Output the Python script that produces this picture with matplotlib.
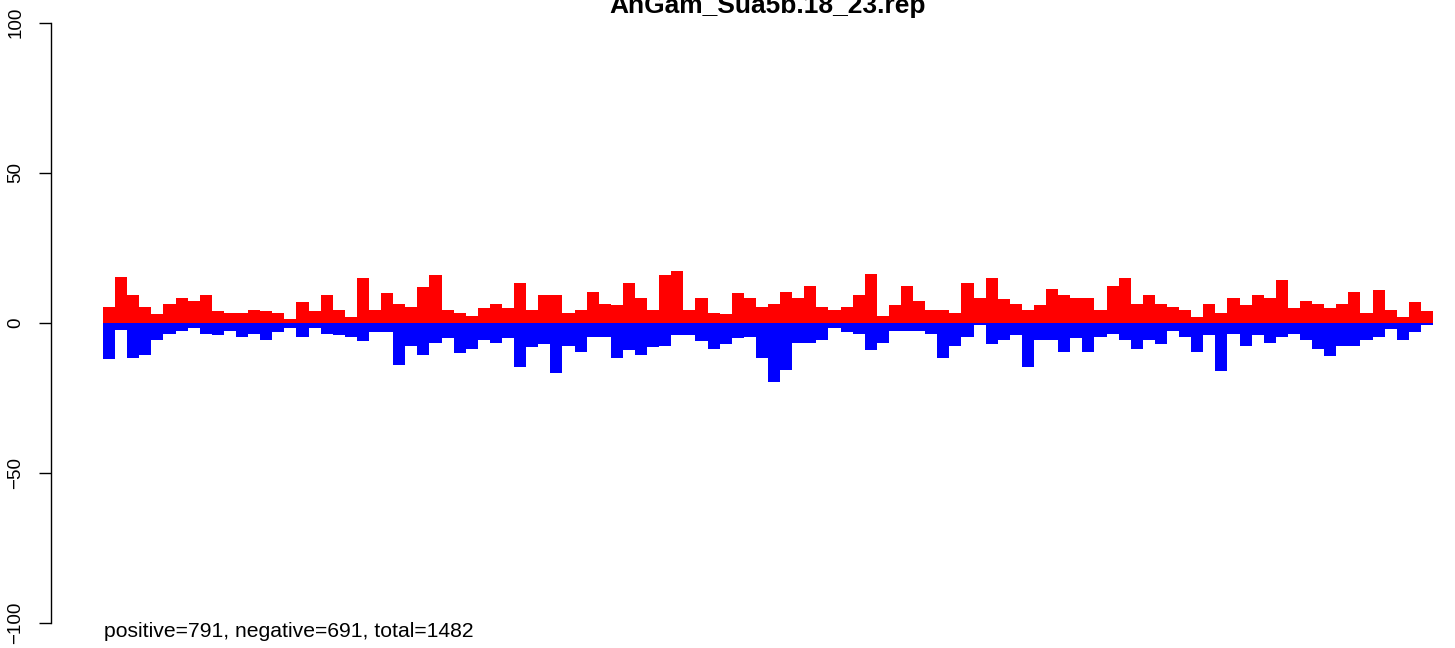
import numpy as np
import matplotlib
matplotlib.use("Agg")
import matplotlib.pyplot as plt

plt.rcParams['font.family'] = ['Liberation Sans', 'DejaVu Sans']
plt.rcParams['axes.unicode_minus'] = True

title = "AnGam_Sua5b.18_23.rep"

# counts per bin (110 bins)
positive = [
    5.1, 15.1, 9.1, 5.1, 2.8, 6.4, 8.4, 7.4, 9.1, 3.8,
    3.4, 3.4, 4.4, 3.8, 3.4, 1.1, 6.8, 3.8, 9.4, 4.4,
    1.8, 14.8, 4.4, 9.8, 6.1, 5.4, 11.8, 15.8, 4.4, 3.1,
    2.4, 4.8, 6.1, 4.8, 13.1, 4.1, 9.4, 9.4, 3.1, 4.4,
    10.1, 6.4, 5.8, 13.4, 8.4, 4.4, 15.8, 17.4, 4.1, 8.4,
    3.4, 2.8, 9.8, 8.1, 5.4, 6.4, 10.1, 8.1, 12.4, 5.1,
    4.4, 5.4, 9.1, 16.4, 2.1, 5.8, 12.4, 7.1, 4.1, 4.4,
    3.4, 13.1, 8.4, 14.8, 7.8, 6.1, 4.1, 5.8, 11.1, 9.1,
    8.1, 8.1, 4.4, 12.1, 14.8, 6.1, 9.1, 6.1, 5.1, 4.1,
    1.8, 6.1, 3.1, 8.1, 5.8, 9.1, 8.1, 14.1, 4.8, 7.1,
    6.1, 4.8, 6.4, 10.1, 3.1, 10.8, 4.1, 1.8, 6.8, 3.8,
]
negative = [
    12.2, 2.4, 11.6, 10.6, 5.6, 3.9, 2.9, 1.9, 3.9, 4.2,
    2.6, 4.9, 3.9, 5.9, 3.2, 1.9, 4.6, 1.6, 3.6, 4.2,
    4.6, 6.2, 3.2, 3.2, 14.2, 7.6, 10.6, 6.9, 5.2, 10.2,
    8.6, 5.6, 6.6, 5.2, 14.9, 8.2, 7.2, 16.9, 7.6, 9.9,
    4.6, 4.9, 11.9, 9.2, 10.6, 8.2, 7.9, 4.2, 4.2, 6.2,
    8.6, 7.2, 5.2, 4.9, 11.6, 19.9, 15.6, 6.6, 6.6, 5.6,
    1.9, 3.2, 3.9, 9.2, 6.9, 2.6, 2.9, 2.9, 3.9, 11.9,
    7.6, 4.9, 0.9, 7.2, 5.9, 4.2, 14.9, 5.6, 5.6, 9.6,
    5.2, 9.6, 4.6, 3.6, 5.6, 8.6, 5.6, 7.2, 2.6, 4.9,
    9.9, 4.2, 16.2, 3.9, 7.9, 4.2, 6.6, 4.9, 3.6, 5.9,
    8.6, 11.2, 7.6, 7.9, 5.9, 4.9, 2.2, 5.6, 3.2, 0.9,
]
n_pos, n_neg = 791, 691
yticks = [-100, -50, 0, 50, 100]

W, H = 1455, 648
fig = plt.figure(figsize=(W / 100, H / 100), dpi=100, facecolor='w')
ax = fig.add_axes([50.7 / W, (H - 622.7) / H, (1433 - 50.7) / W, 600 / H])

x = np.arange(len(positive))
ax.bar(x, positive, width=1.0, align='edge', color='#ff0000', linewidth=0)
ax.bar(x, -np.array(negative), width=1.0, align='edge', color='#0000ff', linewidth=0)

ax.set_xlim(-(103 - 50.7) / 12.09, len(positive))
ax.set_ylim(-100, 100)

for side in ('top', 'right', 'bottom'):
    ax.spines[side].set_visible(False)
ax.spines['left'].set_linewidth(1.0)
ax.set_xticks([])
ax.set_yticks(yticks)
ax.set_yticklabels([str(t).replace('-', '\u2212') for t in yticks],
                   rotation=90, va='center', fontsize=13.5)
ax.tick_params(axis='y', length=9, width=1.0, pad=10)

# title sits partly above the top edge, as in the original
fig.text(767.5 / W, (H - 12.7) / H, title, ha='center', va='baseline',
         fontsize=19, fontweight='bold')
fig.text(104 / W, (H - 636.7) / H,
         "positive=%d, negative=%d, total=%d" % (n_pos, n_neg, n_pos + n_neg),
         ha='left', va='baseline', fontsize=15.2)

fig.savefig('out.png', dpi=100)
